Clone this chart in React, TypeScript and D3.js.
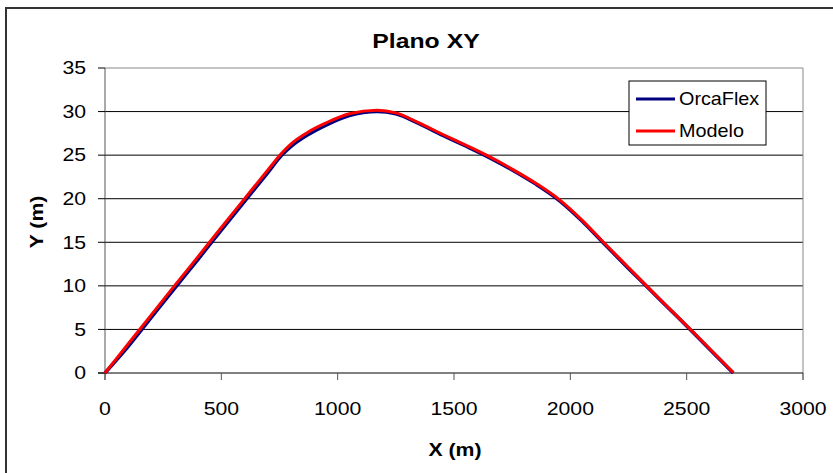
import React from "react";
import * as d3 from "d3";

const xValues = [0, 100, 200, 300, 400, 500, 600, 700, 760, 800, 870, 950, 1050, 1170, 1250, 1350, 1450, 1550, 1650, 1750, 1850, 1950, 2050, 2150, 2250, 2350, 2450, 2550, 2650, 2700];
const modeloY = [0, 3.35, 6.7, 10.05, 13.35, 16.7, 20.0, 23.3, 25.25, 26.3, 27.6, 28.7, 29.75, 30.15, 29.85, 28.7, 27.4, 26.15, 24.85, 23.4, 21.8, 19.95, 17.55, 14.8, 12.1, 9.4, 6.75, 4.1, 1.4, 0.05];
const orcaY = [0, 3.05, 6.4, 9.75, 13.05, 16.4, 19.7, 23.0, 25.0, 26.0, 27.3, 28.45, 29.55, 30.0, 29.75, 28.6, 27.3, 26.05, 24.75, 23.3, 21.7, 19.85, 17.45, 14.7, 12.0, 9.35, 6.7, 4.05, 1.35, 0.0];
const xTicks = [0, 500, 1000, 1500, 2000, 2500, 3000];
const yTicks = [0, 5, 10, 15, 20, 25, 30, 35];
const seriesNames = ["OrcaFlex", "Modelo"];
const seriesColors = ["#000080", "#FF0000"];

function Txt(props: { x: number; y: number; size: number; anchor?: string; bold?: boolean; sx?: number; rotate?: number; children: React.ReactNode }) {
  const { x, y, size, anchor = "start", bold = false, sx = 1.18, rotate = 0 } = props;
  return (
    <text
      transform={`translate(${x},${y}) rotate(${rotate}) scale(${sx},1)`}
      dy="0.35em"
      textAnchor={anchor}
      fontSize={size}
      fontWeight={bold ? "bold" : "normal"}
    >
      {props.children}
    </text>
  );
}

export default function App() {
  const left = 105, right = 803, top = 68, bottom = 373;
  const x = d3.scaleLinear().domain([0, 3000]).range([left, right]);
  const y = d3.scaleLinear().domain([0, 35]).range([bottom, top]);
  const line = d3.line<number>().x((_, i) => x(xValues[i])).y((d) => y(d)).curve(d3.curveMonotoneX);
  const font = "'Liberation Sans', Arial, sans-serif";
  return (
    <svg width={833} height={473} style={{ position: "absolute", left: 0, top: 0 }} fontFamily={font}>
      <rect x={0} y={0} width={833} height={473} fill="#fff" />
      <rect x={6} y={8} width={900} height={600} fill="none" stroke="#333" strokeWidth={2} />
      {yTicks.slice(1, -1).map((t) => (
        <line key={"g" + t} x1={left} x2={right} y1={y(t)} y2={y(t)} stroke="#000" strokeWidth={1} />
      ))}
      <line x1={left} x2={right} y1={top} y2={top} stroke="#888" strokeWidth={1} />
      <line x1={right} x2={right} y1={top} y2={bottom + 7} stroke="#888" strokeWidth={1} />
      <line x1={left} x2={left} y1={top} y2={bottom + 7} stroke="#555" strokeWidth={1} />
      <line x1={left - 7} x2={right} y1={bottom} y2={bottom} stroke="#000" strokeWidth={1} />
      {yTicks.map((t) => (
        <g key={"y" + t}>
          <line x1={left - 7} x2={left} y1={y(t)} y2={y(t)} stroke="#000" />
          <Txt x={86} y={y(t)} size={18} anchor="end">{t}</Txt>
        </g>
      ))}
      {xTicks.map((t) => (
        <g key={"x" + t}>
          <line x1={x(t)} x2={x(t)} y1={bottom} y2={bottom + 7} stroke="#555" />
          <Txt x={x(t)} y={409} size={18} anchor="middle">{t}</Txt>
        </g>
      ))}
      <path d={line(orcaY) || ""} fill="none" stroke={seriesColors[0]} strokeWidth={3.5} strokeLinejoin="round" />
      <path d={line(modeloY) || ""} fill="none" stroke={seriesColors[1]} strokeWidth={3} strokeLinejoin="round" />
      <Txt x={426} y={41} size={21} anchor="middle" bold>Plano XY</Txt>
      <Txt x={455} y={450} size={18} anchor="middle" bold>X (m)</Txt>
      <Txt x={37} y={222} size={18} anchor="middle" bold rotate={-90}>Y (m)</Txt>
      <rect x={629} y={81} width={137} height={64} fill="#fff" stroke="#000" strokeWidth={1} />
      {seriesNames.map((n, i) => (
        <g key={n}>
          <line x1={636} x2={675} y1={99 + i * 32} y2={99 + i * 32} stroke={seriesColors[i]} strokeWidth={3} />
          <Txt x={679} y={99 + i * 32} size={18} sx={1.1}>{n}</Txt>
        </g>
      ))}
    </svg>
  );
}
